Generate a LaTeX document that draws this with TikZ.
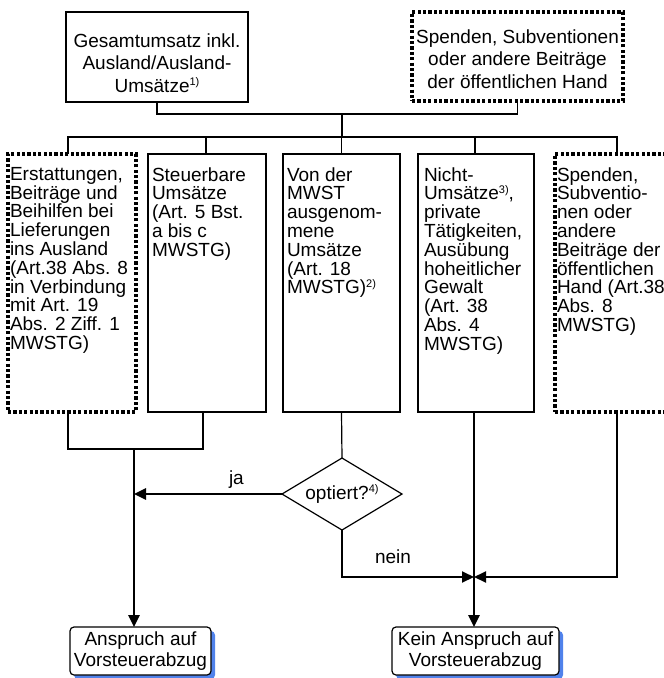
\documentclass[tikz,border=0pt]{standalone}
\usepackage{fontspec}
\setmainfont{Liberation Sans}
\usetikzlibrary{shapes.geometric,arrows.meta,shadows}
\definecolor{shadowblue}{RGB}{80,130,235}
\newcommand\fnsup[1]{\raisebox{6.5pt}{\fontsize{11}{11}\selectfont #1}}
\begin{document}
\begin{tikzpicture}[x=1pt,y=-1pt,
  every node/.style={inner sep=0pt, outer sep=0pt},
  txt/.style={font={\fontsize{19}{18.8}\selectfont\lineskiplimit=-100pt}, align=left, anchor=north west},
  toptxt/.style={font={\fontsize{19}{22.7}\selectfont\lineskiplimit=-100pt}, align=center, anchor=north},
  lbl/.style={font={\fontsize{19}{19}\selectfont}, anchor=base west},
  solidbox/.style={draw, line width=1.2pt},
  dotbox/.style={draw, line width=3.2pt, dash pattern=on 3.2pt off 2.2pt},
  thinline/.style={line width=1.2pt},
  midline/.style={line width=2pt},
  thickline/.style={line width=2.7pt},
  tip/.style={-{Triangle[length=12pt,width=11pt]}},
  endbox/.style={draw, line width=1.2pt, fill=white, rounded corners=4pt, align=center,
    font={\fontsize{19}{21}\selectfont\lineskiplimit=-100pt}, minimum height=48pt,
    drop shadow={shadow xshift=4pt, shadow yshift=-4pt, fill=shadowblue, opacity=1}},
]
\useasboundingbox (0,0) rectangle (664,678);

% top boxes
\node[solidbox, minimum width=182pt, minimum height=90pt] (tl) at (157,57) {};
\node[dotbox, minimum width=211pt, minimum height=89pt] (tr) at (517.5,56.5) {};
\node[toptxt] (tlt) at (157,33.3) {Gesamtumsatz inkl.\\Ausland/Ausland-\\Umsätze\fnsup{1)}};
\node[toptxt] (trt) at (517.5,29.3) {Spenden, Subventionen\\oder andere Beiträge\\der öffentlichen Hand};

% middle boxes
\node[dotbox, minimum width=128pt, minimum height=258pt] (b1) at (72,283) {};
\node[solidbox, minimum width=118pt, minimum height=258pt] (b2) at (207,283) {};
\node[solidbox, minimum width=117pt, minimum height=258pt] (b3) at (341.5,283) {};
\node[solidbox, minimum width=116pt, minimum height=258pt] (b4) at (476,283) {};
\node[dotbox, minimum width=140pt, minimum height=258pt] (b5) at (625,283) {};

\node[txt] (b1t) at (10,167.3) {Erstattungen,\\Beiträge und\\Beihilfen bei\\Lieferungen\\ins Ausland\\(Art.38 Abs. 8\\in Verbindung\\mit Art. 19\\Abs. 2 Ziff. 1\\MWSTG)};
\node[txt] (b2t) at (152,167.3) {Steuerbare\\Umsätze\\(Art. 5 Bst.\\a bis c\\MWSTG)};
\node[txt] (b3t) at (287,167.3) {Von der\\MWST\\ausgenom-\\mene\\Umsätze\\(Art. 18\\MWSTG)\fnsup{2)}};
\node[txt] (b4t) at (424,167.3) {Nicht-\\Umsätze\fnsup{3)},\\private\\Tätigkeiten,\\Ausübung\\hoheitlicher\\Gewalt\\(Art. 38\\Abs. 4\\MWSTG)};
\node[txt] (b5t) at (557,167.3) {Spenden,\\Subventio-\\nen oder\\andere\\Beiträge der\\öffentlichen\\Hand (Art.38\\Abs. 8\\MWSTG)};

% decision
\node[draw, diamond, line width=1.2pt, minimum width=120pt, minimum height=72pt, aspect=1.667,
  font={\fontsize{19}{19}\selectfont}] (d) at (342,494) {optiert?\fnsup{4)}};

% end boxes
\node[endbox, minimum width=141pt] (e1) at (140.5,651) {Anspruch auf\\Vorsteuerabzug};
\node[endbox, minimum width=167pt] (e2) at (475.5,651) {Kein Anspruch auf\\Vorsteuerabzug};

% coordinates
\coordinate (j1) at (342,114);
\coordinate (j2) at (342,137);
\coordinate (u) at (134,449);
\coordinate (k) at (474,577);

% top connectors
\draw[thinline] (tl.south) |- (j1) -| (tr.south);
\draw[thinline] (j1) -- (j2);
\draw[thinline] ([xshift=-4pt]b1.north) |- (j2) -| ([xshift=-8pt]b5.north);
\draw[thinline] ([xshift=-1pt]b2.north) -- ([xshift=-1pt]b2.north |- j2);
\draw[thinline] (b3.north) -- (b3.north |- j2);
\draw[thinline] ([xshift=-1pt]b4.north) -- ([xshift=-1pt]b4.north |- j2);

% lower connectors
\draw[thinline] ([xshift=-4pt]b1.south) |- (u) -| ([xshift=-4pt]b2.south);
\draw[thickline, tip] (u) -- (u |- e1.north);
\draw[thinline] (b3.south) -- (d.north);
\draw[thickline, tip] (d.west) -- (d.west -| u);
\draw[midline, tip] (d.south) |- (k);
\draw[midline, tip] ([xshift=-8pt]b5.south) |- (k);
\draw[midline] ([xshift=-2pt]b4.south) -- (k);
\draw[thickline, tip] (k) -- (k |- e2.north);

\node[lbl] (ja) at (229,484) {ja};
\node[lbl] (nein) at (375,563) {nein};
\end{tikzpicture}
\end{document}
